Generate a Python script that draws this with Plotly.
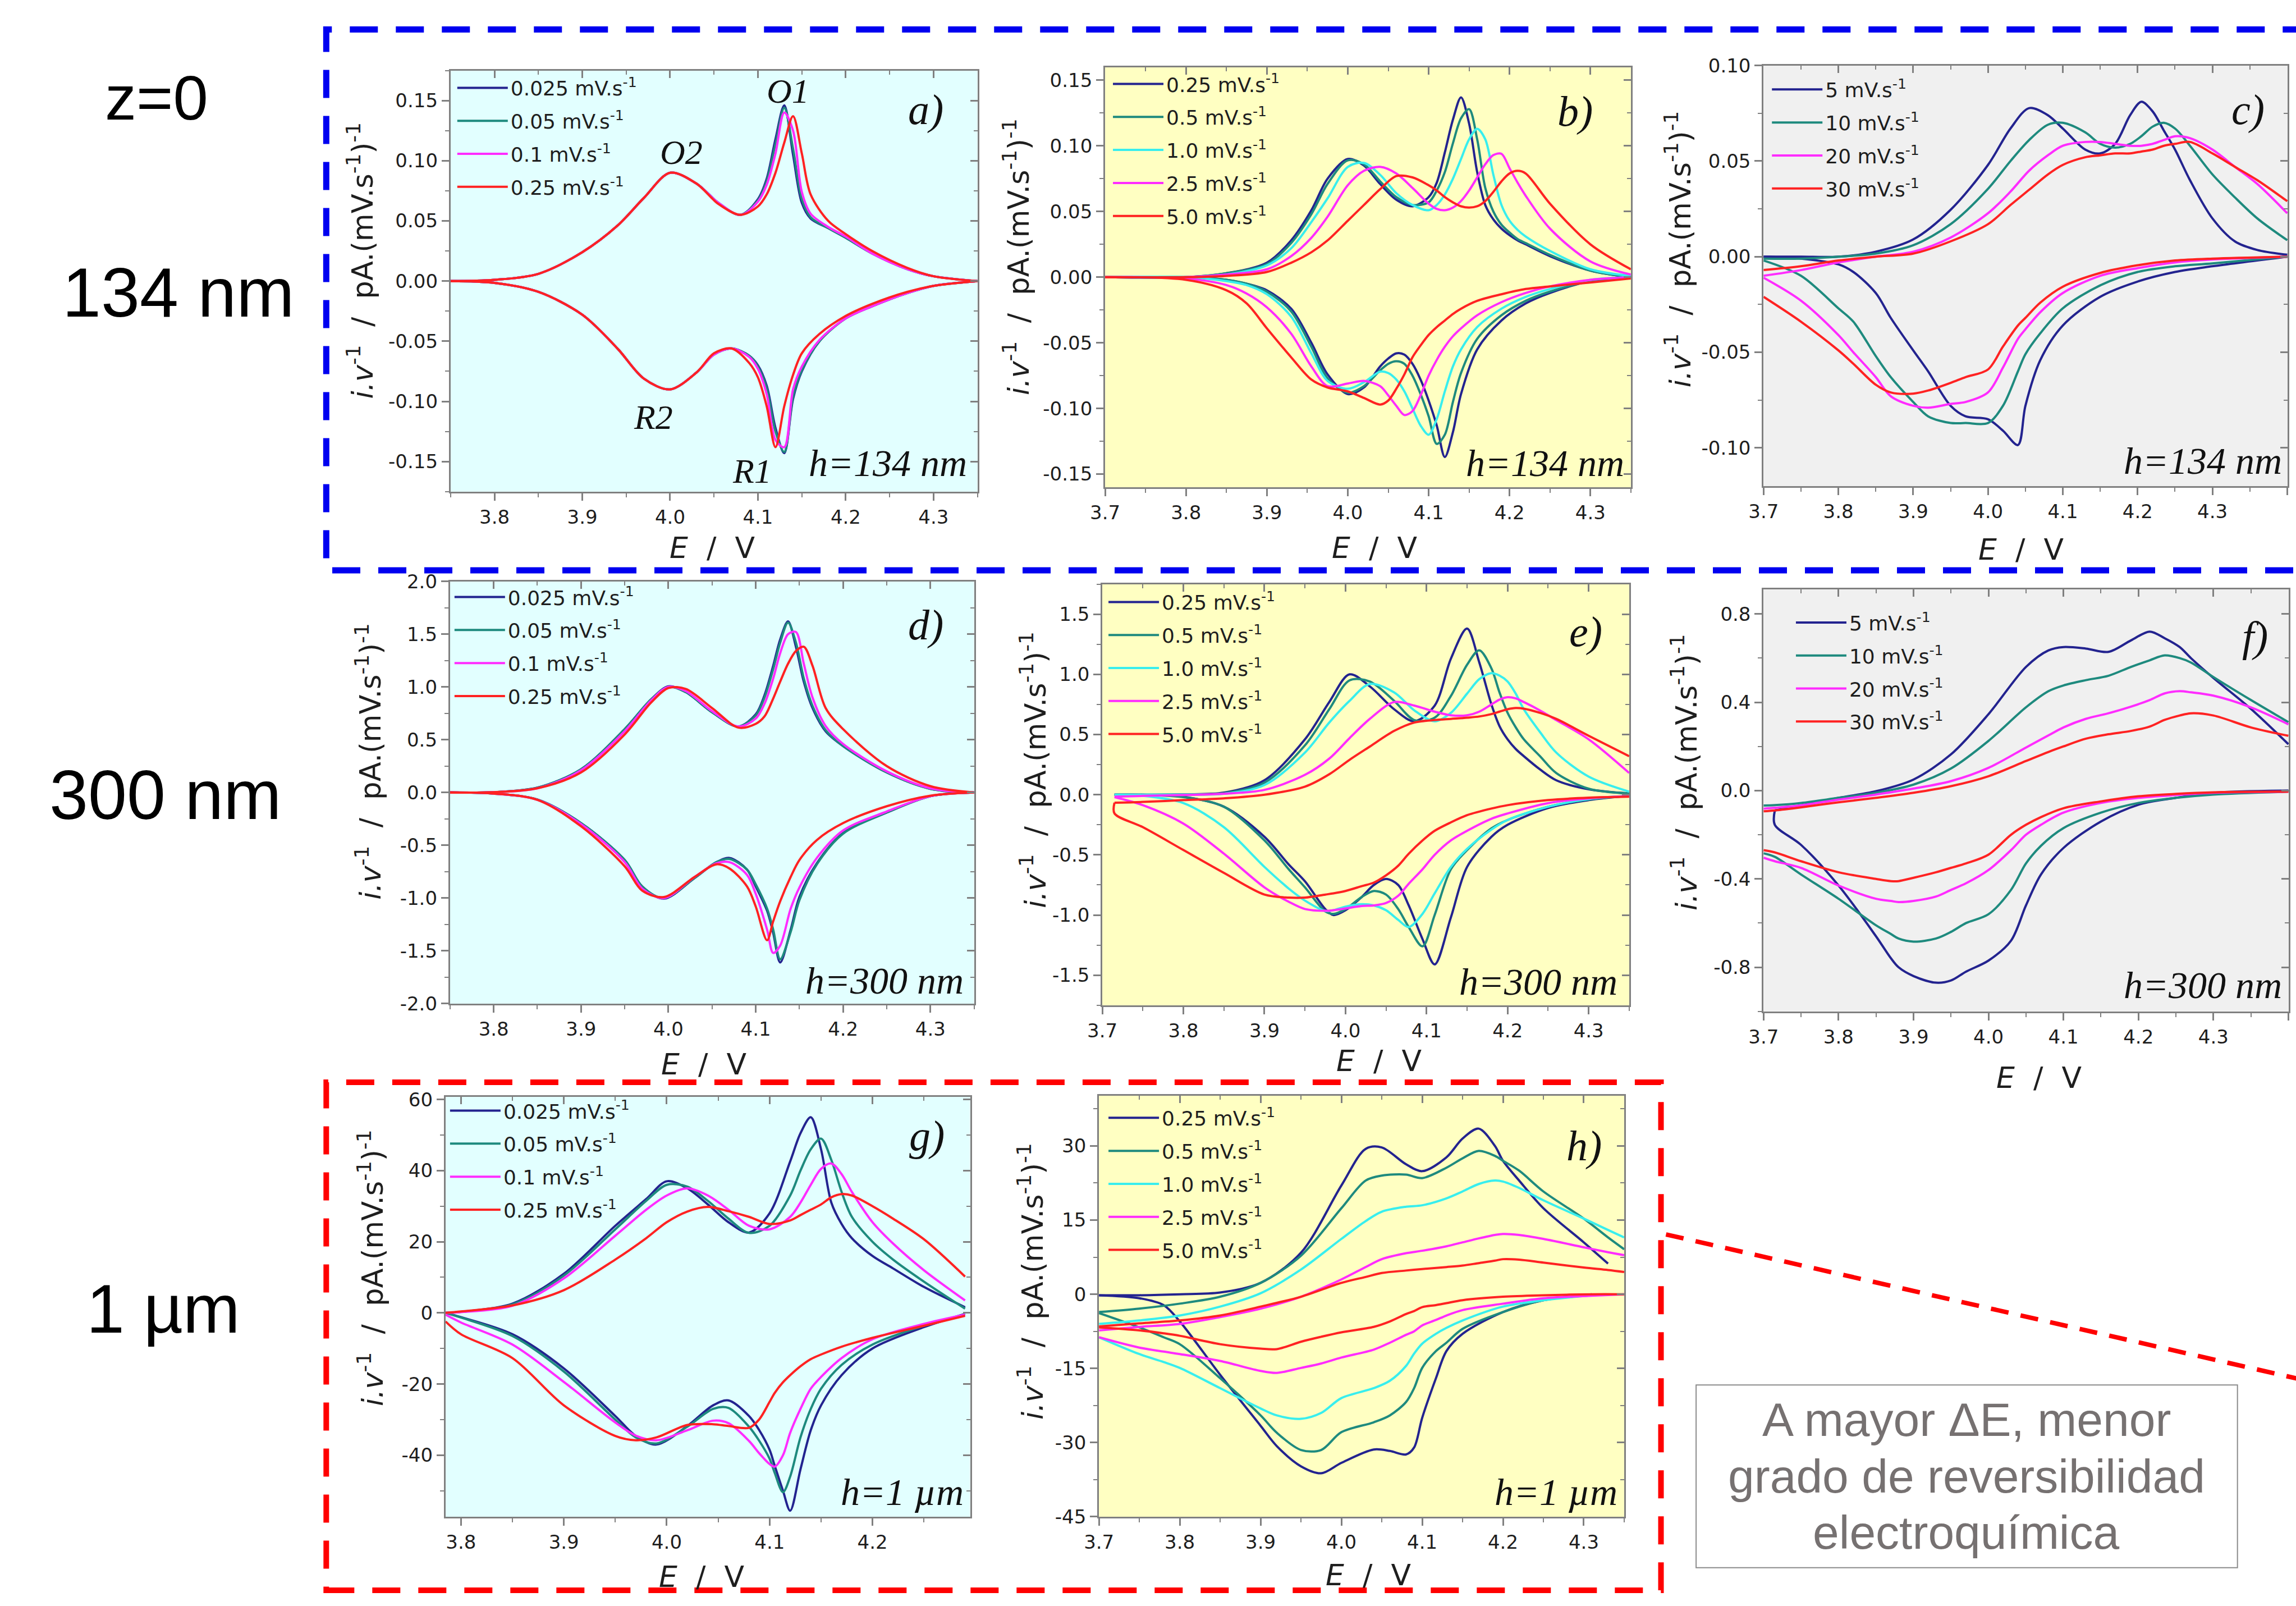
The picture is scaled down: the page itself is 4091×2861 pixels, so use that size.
import plotly.graph_objects as go

W, H = 4091, 2861

# ---------------- data ----------------
RATES_SLOW = ["0.025", "0.05", "0.1", "0.25"]
RATES_MID = ["0.25", "0.5", "1.0", "2.5", "5.0"]
RATES_FAST = ["5", "10", "20", "30"]

# panel a (h=134 nm, slow)
A_E_UP = [3.75, 3.80, 3.85, 3.90, 3.94, 3.97, 4.00, 4.03, 4.055, 4.08, 4.10, 4.11, 4.12, 4.13, 4.14, 4.15, 4.16, 4.18, 4.20, 4.23, 4.27, 4.30, 4.35]
A_UP = [
    [0, 0.001, 0.006, 0.024, 0.046, 0.069, 0.090, 0.081, 0.065, 0.055, 0.068, 0.085, 0.118, 0.146, 0.105, 0.065, 0.052, 0.044, 0.036, 0.023, 0.010, 0.004, 0],
    [0, 0.001, 0.006, 0.024, 0.046, 0.069, 0.090, 0.081, 0.065, 0.055, 0.067, 0.083, 0.114, 0.144, 0.110, 0.068, 0.053, 0.044, 0.036, 0.023, 0.010, 0.004, 0],
    [0, 0.001, 0.006, 0.024, 0.046, 0.069, 0.090, 0.081, 0.065, 0.055, 0.066, 0.080, 0.106, 0.140, 0.125, 0.074, 0.056, 0.045, 0.037, 0.023, 0.010, 0.004, 0],
    [0, 0.001, 0.006, 0.024, 0.046, 0.069, 0.090, 0.081, 0.064, 0.055, 0.062, 0.072, 0.090, 0.115, 0.137, 0.106, 0.072, 0.050, 0.039, 0.025, 0.011, 0.004, 0],
]
A_E_DN = [3.75, 3.80, 3.85, 3.90, 3.94, 3.97, 4.00, 4.03, 4.05, 4.07, 4.09, 4.10, 4.11, 4.12, 4.13, 4.14, 4.15, 4.17, 4.20, 4.23, 4.27, 4.30, 4.35]
A_DN = [
    [0, -0.0015, -0.009, -0.028, -0.056, -0.081, -0.090, -0.076, -0.061, -0.056, -0.062, -0.070, -0.087, -0.122, -0.143, -0.098, -0.075, -0.050, -0.031, -0.021, -0.010, -0.004, 0],
    [0, -0.0015, -0.009, -0.028, -0.056, -0.081, -0.090, -0.076, -0.061, -0.056, -0.062, -0.071, -0.089, -0.125, -0.142, -0.096, -0.074, -0.050, -0.031, -0.021, -0.010, -0.004, 0],
    [0, -0.0015, -0.009, -0.028, -0.056, -0.081, -0.090, -0.076, -0.061, -0.056, -0.063, -0.073, -0.094, -0.132, -0.138, -0.090, -0.071, -0.049, -0.031, -0.021, -0.010, -0.004, 0],
    [0, -0.0015, -0.009, -0.028, -0.056, -0.081, -0.090, -0.076, -0.060, -0.056, -0.068, -0.080, -0.104, -0.138, -0.104, -0.078, -0.060, -0.044, -0.029, -0.019, -0.009, -0.004, 0],
]

# panel b (h=134 nm, mid)
B_E_UP = [3.70, 3.80, 3.85, 3.90, 3.93, 3.955, 3.975, 4.00, 4.02, 4.04, 4.06, 4.08, 4.10, 4.11, 4.12, 4.13, 4.14, 4.15, 4.16, 4.17, 4.18, 4.19, 4.20, 4.21, 4.22, 4.25, 4.30, 4.35]
B_UP = [
    [0, 0, 0.003, 0.011, 0.028, 0.051, 0.075, 0.090, 0.085, 0.071, 0.059, 0.054, 0.061, 0.072, 0.095, 0.120, 0.137, 0.117, 0.080, 0.055, 0.044, 0.037, 0.032, 0.028, 0.025, 0.016, 0.005, 0],
    [0, 0, 0.003, 0.010, 0.026, 0.048, 0.071, 0.089, 0.086, 0.073, 0.061, 0.055, 0.057, 0.066, 0.080, 0.102, 0.121, 0.128, 0.105, 0.068, 0.050, 0.040, 0.034, 0.029, 0.026, 0.017, 0.005, 0],
    [0, 0, 0.002, 0.009, 0.022, 0.042, 0.060, 0.084, 0.087, 0.078, 0.064, 0.055, 0.051, 0.055, 0.063, 0.075, 0.090, 0.105, 0.113, 0.105, 0.078, 0.055, 0.043, 0.036, 0.031, 0.020, 0.006, 0.001],
    [0, 0, 0.002, 0.006, 0.016, 0.030, 0.046, 0.070, 0.081, 0.084, 0.079, 0.068, 0.056, 0.052, 0.051, 0.053, 0.058, 0.066, 0.076, 0.086, 0.093, 0.094, 0.083, 0.072, 0.062, 0.037, 0.012, 0.002],
    [0, 0, 0.001, 0.004, 0.011, 0.019, 0.028, 0.043, 0.055, 0.067, 0.077, 0.076, 0.070, 0.066, 0.061, 0.057, 0.054, 0.053, 0.054, 0.058, 0.065, 0.073, 0.079, 0.081, 0.079, 0.056, 0.025, 0.006],
]
B_E_DN = [3.70, 3.80, 3.85, 3.875, 3.90, 3.93, 3.955, 3.975, 4.00, 4.02, 4.04, 4.05, 4.06, 4.07, 4.08, 4.09, 4.10, 4.11, 4.12, 4.13, 4.14, 4.16, 4.19, 4.22, 4.25, 4.30, 4.35]
B_DN = [
    [0, 0, -0.002, -0.005, -0.010, -0.024, -0.050, -0.074, -0.089, -0.084, -0.068, -0.062, -0.058, -0.059, -0.066, -0.078, -0.094, -0.113, -0.137, -0.118, -0.089, -0.055, -0.033, -0.020, -0.012, -0.003, 0],
    [0, 0, -0.002, -0.005, -0.011, -0.026, -0.053, -0.077, -0.088, -0.083, -0.071, -0.066, -0.064, -0.066, -0.075, -0.089, -0.106, -0.127, -0.120, -0.095, -0.073, -0.047, -0.029, -0.018, -0.011, -0.003, 0],
    [0, 0, -0.003, -0.006, -0.013, -0.030, -0.058, -0.079, -0.085, -0.080, -0.072, -0.073, -0.078, -0.087, -0.100, -0.113, -0.120, -0.108, -0.087, -0.068, -0.055, -0.038, -0.024, -0.015, -0.009, -0.002, 0],
    [0, -0.001, -0.006, -0.0125, -0.023, -0.043, -0.068, -0.083, -0.081, -0.079, -0.083, -0.090, -0.098, -0.105, -0.102, -0.090, -0.075, -0.063, -0.053, -0.045, -0.039, -0.029, -0.019, -0.012, -0.007, -0.002, 0],
    [0, -0.002, -0.010, -0.020, -0.039, -0.061, -0.078, -0.084, -0.087, -0.092, -0.097, -0.094, -0.085, -0.074, -0.061, -0.052, -0.044, -0.038, -0.033, -0.028, -0.024, -0.018, -0.013, -0.009, -0.007, -0.004, -0.001],
]

# panel c (h=134 nm, fast)
C_E_UP = [3.70, 3.75, 3.80, 3.85, 3.90, 3.95, 4.00, 4.03, 4.055, 4.08, 4.10, 4.13, 4.15, 4.17, 4.19, 4.205, 4.22, 4.235, 4.25, 4.27, 4.30, 4.33, 4.36, 4.40]
C_UP = [
    [0, 0, 0, 0.0026, 0.009, 0.0245, 0.048, 0.067, 0.0777, 0.074, 0.067, 0.056, 0.054, 0.059, 0.074, 0.081, 0.076, 0.066, 0.056, 0.040, 0.020, 0.008, 0.0035, 0.001],
    [-0.001, -0.001, 0, 0.0016, 0.006, 0.017, 0.0355, 0.050, 0.061, 0.069, 0.070, 0.065, 0.059, 0.057, 0.059, 0.063, 0.068, 0.070, 0.067, 0.058, 0.043, 0.031, 0.020, 0.0086],
    [-0.010, -0.007, -0.003, 0, 0.0026, 0.010, 0.0227, 0.034, 0.045, 0.053, 0.058, 0.060, 0.060, 0.059, 0.058, 0.058, 0.059, 0.061, 0.063, 0.062, 0.056, 0.047, 0.038, 0.0227],
    [-0.007, -0.005, -0.002, 0, 0.0016, 0.008, 0.017, 0.027, 0.035, 0.043, 0.048, 0.052, 0.053, 0.054, 0.054, 0.055, 0.056, 0.058, 0.059, 0.060, 0.054, 0.047, 0.040, 0.029],
]
C_E_DN = [3.70, 3.75, 3.80, 3.82, 3.85, 3.87, 3.90, 3.92, 3.95, 3.97, 4.00, 4.02, 4.04, 4.05, 4.07, 4.10, 4.15, 4.20, 4.25, 4.30, 4.40]
C_DN = [
    [0, -0.001, -0.004, -0.008, -0.019, -0.032, -0.049, -0.060, -0.078, -0.0835, -0.085, -0.091, -0.0985, -0.078, -0.054, -0.036, -0.021, -0.013, -0.008, -0.005, 0],
    [-0.002, -0.010, -0.027, -0.034, -0.052, -0.063, -0.076, -0.0835, -0.087, -0.087, -0.087, -0.078, -0.060, -0.051, -0.040, -0.027, -0.015, -0.008, -0.005, -0.0035, 0],
    [-0.011, -0.023, -0.041, -0.050, -0.063, -0.073, -0.078, -0.079, -0.077, -0.076, -0.071, -0.058, -0.043, -0.038, -0.029, -0.019, -0.010, -0.006, -0.003, -0.0015, 0],
    [-0.021, -0.034, -0.049, -0.056, -0.067, -0.071, -0.0716, -0.070, -0.066, -0.063, -0.059, -0.047, -0.036, -0.032, -0.024, -0.0157, -0.0085, -0.0045, -0.002, -0.001, 0],
]

# panel d (h=300 nm, slow)
D_E_UP = [3.75, 3.80, 3.85, 3.90, 3.95, 3.98, 4.00, 4.02, 4.05, 4.08, 4.10, 4.11, 4.12, 4.128, 4.137, 4.146, 4.155, 4.165, 4.18, 4.20, 4.25, 4.30, 4.35]
D_UP = [
    [0, 0.003, 0.045, 0.22, 0.60, 0.88, 1.005, 0.95, 0.76, 0.625, 0.74, 0.92, 1.20, 1.45, 1.62, 1.38, 1.05, 0.80, 0.58, 0.44, 0.19, 0.035, 0],
    [0, 0.003, 0.045, 0.22, 0.60, 0.88, 1.00, 0.95, 0.76, 0.625, 0.73, 0.90, 1.17, 1.42, 1.61, 1.42, 1.08, 0.82, 0.59, 0.44, 0.19, 0.035, 0],
    [0, 0.003, 0.04, 0.21, 0.58, 0.87, 1.00, 0.96, 0.77, 0.625, 0.70, 0.84, 1.08, 1.32, 1.50, 1.52, 1.22, 0.90, 0.63, 0.46, 0.20, 0.04, 0],
    [0, 0.003, 0.04, 0.19, 0.55, 0.85, 0.99, 0.98, 0.80, 0.615, 0.65, 0.72, 0.89, 1.05, 1.22, 1.34, 1.38, 1.20, 0.80, 0.60, 0.25, 0.06, 0],
]
D_E_DN = [3.75, 3.80, 3.85, 3.90, 3.95, 3.97, 3.995, 4.03, 4.055, 4.07, 4.09, 4.10, 4.113, 4.12, 4.128, 4.14, 4.15, 4.17, 4.20, 4.25, 4.30, 4.35]
D_DN = [
    [0, -0.01, -0.067, -0.29, -0.64, -0.89, -1.005, -0.81, -0.66, -0.62, -0.73, -0.89, -1.12, -1.33, -1.61, -1.30, -0.99, -0.67, -0.385, -0.19, -0.035, 0],
    [0, -0.01, -0.067, -0.29, -0.64, -0.89, -1.00, -0.81, -0.66, -0.63, -0.73, -0.87, -1.10, -1.30, -1.58, -1.32, -1.02, -0.68, -0.39, -0.19, -0.035, 0],
    [0, -0.01, -0.07, -0.30, -0.66, -0.91, -1.00, -0.80, -0.67, -0.66, -0.78, -0.96, -1.30, -1.52, -1.45, -1.10, -0.90, -0.62, -0.36, -0.18, -0.035, 0],
    [0, -0.01, -0.07, -0.32, -0.70, -0.93, -0.99, -0.80, -0.68, -0.72, -0.89, -1.08, -1.40, -1.22, -1.03, -0.80, -0.64, -0.45, -0.29, -0.13, -0.03, 0],
]

# panel e (h=300 nm, mid)
E_E_UP = [3.715, 3.75, 3.80, 3.85, 3.90, 3.95, 3.98, 4.005, 4.03, 4.06, 4.085, 4.11, 4.13, 4.15, 4.165, 4.18, 4.19, 4.20, 4.21, 4.22, 4.24, 4.26, 4.30, 4.35]
E_UP = [
    [0, 0, 0.003, 0.017, 0.12, 0.46, 0.77, 1.00, 0.90, 0.71, 0.61, 0.74, 1.13, 1.38, 1.10, 0.75, 0.57, 0.46, 0.38, 0.32, 0.21, 0.12, 0.045, 0.01],
    [0, 0, 0.002, 0.013, 0.10, 0.41, 0.71, 0.95, 0.94, 0.78, 0.62, 0.64, 0.82, 1.08, 1.20, 1.05, 0.85, 0.68, 0.56, 0.46, 0.32, 0.18, 0.05, 0.01],
    [0, 0, 0.001, 0.008, 0.08, 0.35, 0.60, 0.78, 0.92, 0.85, 0.70, 0.61, 0.68, 0.84, 0.96, 1.01, 0.99, 0.94, 0.84, 0.71, 0.52, 0.35, 0.15, 0.025],
    [-0.017, -0.01, -0.003, 0.008, 0.04, 0.165, 0.30, 0.47, 0.63, 0.77, 0.74, 0.69, 0.66, 0.66, 0.69, 0.75, 0.79, 0.81, 0.80, 0.77, 0.70, 0.62, 0.46, 0.18],
    [-0.067, -0.060, -0.045, -0.03, 0.0, 0.067, 0.17, 0.29, 0.40, 0.53, 0.60, 0.62, 0.63, 0.64, 0.65, 0.67, 0.69, 0.71, 0.72, 0.715, 0.68, 0.63, 0.49, 0.32],
]
E_E_DN = [3.715, 3.75, 3.80, 3.85, 3.90, 3.93, 3.95, 3.975, 3.985, 4.00, 4.02, 4.035, 4.05, 4.065, 4.078, 4.095, 4.11, 4.13, 4.15, 4.18, 4.20, 4.25, 4.30, 4.35]
E_DN = [
    [0, 0, -0.017, -0.10, -0.35, -0.58, -0.72, -0.95, -1.00, -0.96, -0.85, -0.75, -0.70, -0.75, -0.92, -1.20, -1.41, -1.02, -0.60, -0.35, -0.25, -0.11, -0.045, -0.01],
    [0, -0.003, -0.02, -0.10, -0.38, -0.62, -0.77, -0.97, -0.99, -0.95, -0.85, -0.80, -0.83, -0.95, -1.10, -1.26, -1.00, -0.62, -0.46, -0.28, -0.21, -0.10, -0.04, -0.01],
    [-0.005, -0.01, -0.07, -0.27, -0.60, -0.78, -0.88, -0.966, -0.96, -0.93, -0.91, -0.92, -0.96, -1.04, -1.10, -0.99, -0.82, -0.60, -0.45, -0.29, -0.21, -0.10, -0.036, -0.01],
    [-0.02, -0.087, -0.24, -0.49, -0.77, -0.89, -0.95, -0.965, -0.96, -0.945, -0.925, -0.92, -0.90, -0.84, -0.74, -0.62, -0.50, -0.38, -0.30, -0.20, -0.156, -0.07, -0.03, -0.012],
    [-0.156, -0.27, -0.46, -0.65, -0.83, -0.855, -0.855, -0.83, -0.82, -0.80, -0.76, -0.73, -0.67, -0.59, -0.49, -0.38, -0.30, -0.23, -0.17, -0.115, -0.087, -0.045, -0.025, -0.017],
]

# panel f (h=300 nm, fast)
F_E_UP = [3.70, 3.715, 3.75, 3.80, 3.85, 3.90, 3.95, 4.00, 4.05, 4.08, 4.10, 4.13, 4.16, 4.19, 4.215, 4.235, 4.255, 4.27, 4.30, 4.35, 4.40]
F_UP = [
    [None, -0.09, -0.067, -0.033, -0.003, 0.05, 0.164, 0.346, 0.56, 0.635, 0.65, 0.643, 0.628, 0.68, 0.72, 0.69, 0.65, 0.60, 0.51, 0.37, 0.21],
    [-0.068, -0.066, -0.056, -0.033, -0.01, 0.027, 0.10, 0.225, 0.377, 0.45, 0.476, 0.50, 0.52, 0.56, 0.59, 0.612, 0.60, 0.58, 0.514, 0.41, 0.31],
    [-0.082, -0.078, -0.067, -0.041, -0.018, 0.009, 0.043, 0.103, 0.195, 0.25, 0.286, 0.325, 0.35, 0.38, 0.41, 0.44, 0.45, 0.445, 0.43, 0.377, 0.30],
    [-0.094, -0.09, -0.076, -0.053, -0.033, -0.01, 0.02, 0.065, 0.134, 0.175, 0.20, 0.235, 0.255, 0.27, 0.29, 0.32, 0.34, 0.35, 0.34, 0.286, 0.248],
]
F_E_DN = [3.70, 3.715, 3.75, 3.80, 3.85, 3.87, 3.88, 3.90, 3.93, 3.95, 3.97, 4.00, 4.03, 4.05, 4.07, 4.10, 4.15, 4.20, 4.25, 4.30, 4.40]
F_DN = [
    [None, -0.155, -0.246, -0.43, -0.66, -0.76, -0.80, -0.84, -0.87, -0.86, -0.82, -0.77, -0.68, -0.52, -0.38, -0.26, -0.14, -0.064, -0.033, -0.01, 0],
    [-0.284, -0.30, -0.38, -0.49, -0.61, -0.65, -0.67, -0.684, -0.67, -0.64, -0.60, -0.56, -0.45, -0.33, -0.25, -0.17, -0.10, -0.056, -0.033, -0.018, -0.005],
    [-0.304, -0.32, -0.35, -0.43, -0.49, -0.50, -0.505, -0.50, -0.48, -0.45, -0.42, -0.36, -0.27, -0.20, -0.155, -0.10, -0.056, -0.033, -0.02, -0.01, -0.005],
    [-0.27, -0.28, -0.32, -0.37, -0.40, -0.41, -0.41, -0.395, -0.37, -0.35, -0.33, -0.29, -0.20, -0.155, -0.12, -0.08, -0.049, -0.026, -0.015, -0.008, -0.005],
]

# panel g (h=1 um, slow)
G_E_UP = [3.785, 3.80, 3.85, 3.90, 3.95, 3.98, 4.00, 4.02, 4.04, 4.06, 4.08, 4.10, 4.12, 4.13, 4.14, 4.15, 4.16, 4.17, 4.18, 4.20, 4.22, 4.25, 4.29]
G_UP = [
    [0, 0.3, 2.6, 11, 24.5, 32, 37, 35, 30.5, 25.5, 22.6, 28, 42.6, 50.5, 55, 46, 31, 25, 21, 16, 12.5, 7.3, 1.6],
    [0, 0.3, 2.4, 10.5, 23.5, 31.5, 36, 35.5, 31.5, 26.5, 22.5, 24.5, 33, 40, 46, 49, 43, 34, 27, 20, 15, 8.8, 1.2],
    [0, 0.2, 2.0, 9.7, 21.7, 29, 33, 35, 33, 29, 24.5, 23.5, 27, 31, 36, 40.5, 42, 39, 34, 25.5, 19.5, 12, 3.5],
    [0, 0.4, 2.1, 6.4, 15, 21, 25.5, 28.5, 29.8, 28.6, 27, 25, 26, 27.5, 29, 30.5, 32.5, 33.4, 33, 30, 26.5, 20.7, 10.2],
]
G_E_DN = [3.785, 3.80, 3.85, 3.90, 3.95, 3.97, 3.99, 4.02, 4.045, 4.06, 4.08, 4.09, 4.10, 4.105, 4.113, 4.12, 4.13, 4.14, 4.15, 4.17, 4.20, 4.25, 4.29]
G_DN = [
    [0, -1.2, -6, -15.6, -29, -34.6, -37, -31.8, -26, -24.6, -29, -33, -38.5, -43, -50, -55.6, -44, -33, -26, -17.5, -10, -4, -0.3],
    [0, -1.3, -6.5, -16.5, -30, -35, -36.7, -32, -27, -26.7, -32, -36, -41, -45, -50.4, -46, -35, -27, -21.3, -14.6, -8.9, -3.6, -0.5],
    [-0.5, -2.7, -8.9, -19.4, -30.8, -34.5, -35.8, -33, -30.3, -31, -36, -39.5, -42.5, -43.2, -40, -33.7, -27, -21.3, -18, -12.7, -7.4, -3.1, -0.5],
    [-2.4, -6, -12.7, -26, -34.6, -35.8, -35, -31.5, -31.3, -31.8, -32.3, -29.9, -25, -22.5, -19.5, -17.5, -15, -13, -11.7, -9.5, -7, -3.6, -0.8],
]

# panel h (h=1 um, mid)
H_E_UP = [3.70, 3.75, 3.80, 3.85, 3.90, 3.95, 4.00, 4.03, 4.05, 4.08, 4.10, 4.13, 4.15, 4.17, 4.19, 4.20, 4.22, 4.25, 4.30, 4.33, 4.35]
H_UP = [
    [-0.2, -0.2, 0, 0.35, 2.3, 8.4, 22, 29.4, 29.7, 26.3, 24.9, 27.7, 31.5, 33.5, 30, 27, 23, 17.4, 10.5, 6.2, None],
    [-3.6, -2.9, -1.9, -0.5, 2.3, 7.8, 17.4, 23, 24, 24.2, 23.5, 25.6, 27.5, 29, 28, 27, 25, 20.8, 15.3, 11.5, 9.1],
    [-6, -5.3, -4.3, -2.5, 0.2, 5, 11.2, 14.8, 16.7, 17.7, 18, 19.4, 20.8, 22.3, 23, 22.8, 21.5, 19, 15.3, 13, 11.5],
    [-7.3, -6.6, -6, -4.6, -2.9, -0.5, 3, 5.5, 7.1, 8.3, 8.8, 9.7, 10.5, 11.3, 12, 12.2, 12, 11.2, 9.5, 8.5, 7.9],
    [-6.5, -5.9, -5.3, -4.3, -2.5, -0.5, 2.3, 3.5, 4.3, 4.8, 5.1, 5.5, 5.8, 6.3, 6.8, 7.1, 7.0, 6.4, 5.4, 4.9, 4.5],
]
H_E_DN = [3.70, 3.75, 3.78, 3.80, 3.85, 3.90, 3.92, 3.95, 3.975, 4.00, 4.04, 4.06, 4.08, 4.09, 4.10, 4.117, 4.13, 4.15, 4.20, 4.25, 4.31, 4.35]
H_DN = [
    [-0.2, -0.8, -2.2, -5.5, -16.3, -26.6, -30.7, -34.8, -36.2, -34.1, -31.4, -31.7, -32.4, -31, -25, -17, -11.5, -8, -3.6, -1.2, 0, None],
    [-3.8, -6.7, -8.7, -10.1, -17, -24.5, -28, -31.5, -31.5, -27.9, -25.9, -24.5, -21.8, -19, -14.9, -11.5, -9.8, -7, -3.6, -1.2, -0.2, None],
    [-8.7, -12.1, -13.7, -14.9, -19, -23.1, -24.5, -25.2, -24, -21, -19, -17.5, -14.5, -12, -10, -8, -6.8, -5.3, -2.5, -1.2, -0.2, None],
    [-8.7, -10.8, -11.6, -12.1, -13.5, -15.5, -15.9, -14.9, -14, -12.8, -11.2, -9.8, -8.2, -7.5, -6.3, -5.2, -4.3, -3.2, -1.9, -0.8, -0.3, 0],
    [-6.7, -7.3, -7.9, -8.4, -10.1, -11, -11.1, -9.6, -8.6, -7.7, -6.6, -5.5, -4, -3.4, -2.6, -2.2, -1.8, -1.2, -0.5, -0.2, 0, 0],
]

# tick values
X_TICKS_38 = [3.8, 3.9, 4.0, 4.1, 4.2, 4.3]
X_TICKS_37 = [3.7, 3.8, 3.9, 4.0, 4.1, 4.2, 4.3]
X_TICKS_37_44 = [3.7, 3.8, 3.9, 4.0, 4.1, 4.2, 4.3, 4.4]
X_TICKS_G = [3.8, 3.9, 4.0, 4.1, 4.2]
Y_TICKS_AB = [-0.15, -0.10, -0.05, 0.00, 0.05, 0.10, 0.15]
Y_TICKS_C = [-0.10, -0.05, 0.00, 0.05, 0.10]
Y_TICKS_D = [-2.0, -1.5, -1.0, -0.5, 0.0, 0.5, 1.0, 1.5, 2.0]
Y_TICKS_E = [-1.5, -1.0, -0.5, 0.0, 0.5, 1.0, 1.5]
Y_TICKS_F = [-0.8, -0.4, 0.0, 0.4, 0.8]
Y_TICKS_G = [-40, -20, 0, 20, 40, 60]
Y_TICKS_H = [-45, -30, -15, 0, 15, 30]

# ---------------- style ----------------
NAVY, TEAL, CYAN, MAG, RED = "#23238f", "#1e8a7e", "#38eeee", "#ff2cff", "#ff2222"
COLS4 = [NAVY, TEAL, MAG, RED]
COLS5 = [NAVY, TEAL, CYAN, MAG, RED]
BG_CYAN, BG_YEL, BG_GRAY = "#e2ffff", "#ffffc2", "#f0f0f0"
AX = "#808080"
TXT = "#1e1e1e"
SANS = "DejaVu Sans"
SERIF = "Liberation Serif"


def fx(p):
    return p / W


def fy(p):
    return 1 - p / H


PANELS = [
    dict(tag="a", box=(781, 107, 1726, 868), xr=[3.75, 4.35], yr=[-0.175, 0.175], xt=X_TICKS_38, yt=Y_TICKS_AB, yf="{:.2f}",
         xm=0.05, ym=0.025, bg=BG_CYAN, names=RATES_SLOW, cols=COLS4, eu=A_E_UP, up=A_UP, ed=A_E_DN, dn=A_DN,
         leg=(796, 144), lab=(1633, 178), h=("h=134 nm", 1709, 816), xtp=(1250, 970), ytp=(619, 450)),
    dict(tag="b", box=(1955, 101, 2898, 860), xr=[3.7, 4.35], yr=[-0.16, 0.16], xt=X_TICKS_37, yt=Y_TICKS_AB, yf="{:.2f}",
         xm=0.05, ym=0.025, bg=BG_YEL, names=RATES_MID, cols=COLS5, eu=B_E_UP, up=B_UP, ed=B_E_DN, dn=B_DN,
         leg=(1972, 137), lab=(2798, 181), h=("h=134 nm", 2888, 816), xtp=(2438, 970), ytp=(1796, 444)),
    dict(tag="c", box=(3136, 98, 4076, 858), xr=[3.7, 4.4005], yr=[-0.12, 0.10], xt=X_TICKS_37_44, yt=Y_TICKS_C, yf="{:.2f}",
         xm=0.05, ym=0.025, bg=BG_GRAY, names=RATES_FAST, cols=COLS4, eu=C_E_UP, up=C_UP, ed=C_E_DN, dn=C_DN,
         leg=(3154, 147), lab=(4005, 178), h=("h=134 nm", 4068, 812), xtp=(3598, 973), ytp=(2983, 430)),
    dict(tag="d", box=(780, 1030, 1720, 1793), xr=[3.75, 4.35], yr=[-2.0, 2.0], xt=X_TICKS_38, yt=Y_TICKS_D, yf="{:.1f}",
         xm=0.05, ym=0.25, bg=BG_CYAN, names=RATES_SLOW, cols=COLS4, eu=D_E_UP, up=D_UP, ed=D_E_DN, dn=D_DN,
         leg=(791, 1064), lab=(1633, 1109), h=("h=300 nm", 1703, 1751), xtp=(1235, 1903), ytp=(634, 1355)),
    dict(tag="e", box=(1950, 1035, 2895, 1796), xr=[3.7, 4.35], yr=[-1.75, 1.75], xt=X_TICKS_37, yt=Y_TICKS_E, yf="{:.1f}",
         xm=0.05, ym=0.25, bg=BG_YEL, names=RATES_MID, cols=COLS5, eu=E_E_UP, up=E_UP, ed=E_E_DN, dn=E_DN,
         leg=(1964, 1073), lab=(2817, 1121), h=("h=300 nm", 2876, 1754), xtp=(2446, 1897), ytp=(1826, 1370), close=[4]),
    dict(tag="f", box=(3136, 1045, 4078, 1807), xr=[3.7, 4.4005], yr=[-1.0, 0.91], xt=X_TICKS_37_44, yt=Y_TICKS_F, yf="{:.1f}",
         xm=0.05, ym=0.2, bg=BG_GRAY, names=RATES_FAST, cols=COLS4, eu=F_E_UP, up=F_UP, ed=F_E_DN, dn=F_DN,
         leg=(3197, 1110), lab=(4018, 1130), h=("h=300 nm", 4068, 1760), xtp=(3630, 1927), ytp=(2994, 1375), close=[0]),
    dict(tag="g", box=(772, 1961, 1713, 2720), xr=[3.785, 4.295], yr=[-57.3, 60.8], xt=X_TICKS_G, yt=Y_TICKS_G, yf="{:.0f}",
         xm=0.05, ym=10, bg=BG_CYAN, names=RATES_SLOW, cols=COLS4, eu=G_E_UP, up=G_UP, ed=G_E_DN, dn=G_DN,
         leg=(783, 1992), lab=(1635, 2032), h=("h=1 µm", 1703, 2675), xtp=(1231, 2829), ytp=(638, 2270)),
    dict(tag="h", box=(1944, 1959, 2886, 2720), xr=[3.7, 4.35], yr=[-45, 40.2], xt=X_TICKS_37, yt=Y_TICKS_H, yf="{:.0f}",
         xm=0.05, ym=7.5, bg=BG_YEL, names=RATES_MID, cols=COLS5, eu=H_E_UP, up=H_UP, ed=H_E_DN, dn=H_DN,
         leg=(1964, 2005), lab=(2814, 2050), h=("h=1 µm", 2876, 2675), xtp=(2427, 2826), ytp=(1822, 2294)),
]

fig = go.Figure()
layout = dict(width=W, height=H, margin=dict(l=0, r=0, t=0, b=0), paper_bgcolor="white",
              plot_bgcolor="rgba(0,0,0,0)", showlegend=True)
shapes, annos = [], []

TICKFONT = dict(family=SANS, size=34, color=TXT)
YTITLE = "<i>i.v</i><sup>-1</sup>\u00a0\u00a0/\u00a0\u00a0pA.(mV.s<sup>-1</sup>)<sup>-1</sup>"
XTITLE = "<i>E</i>\u00a0\u00a0/\u00a0\u00a0V"

for k, p in enumerate(PANELS, start=1):
    sx = "" if k == 1 else str(k)
    xa, ya = "x" + sx, "y" + sx
    leg = "legend" + sx
    x0, y0, x1, y1 = p["box"]
    dom_x = [fx(x0), fx(x1)]
    dom_y = [fy(y1), fy(y0)]
    # main axes (ticks out: left/bottom)
    layout["xaxis" + sx] = dict(
        domain=dom_x, range=p["xr"], anchor=ya, showline=True, linecolor=AX, linewidth=3, mirror=True,
        ticks="outside", ticklen=13, tickwidth=3, tickcolor=AX, tickmode="array", tickvals=p["xt"],
        ticktext=[f"{v:.1f}" for v in p["xt"]], tickfont=TICKFONT, showgrid=False, zeroline=False,
        minor=dict(tickmode="linear", tick0=0, dtick=p["xm"], ticks="outside", ticklen=7, tickwidth=2, tickcolor=AX),
    )
    layout["yaxis" + sx] = dict(
        domain=dom_y, range=p["yr"], anchor=xa, showline=True, linecolor=AX, linewidth=3, mirror=True,
        ticks="outside", ticklen=13, tickwidth=3, tickcolor=AX, tickmode="array", tickvals=p["yt"],
        ticktext=[p["yf"].format(v) for v in p["yt"]], tickfont=TICKFONT, showgrid=False, zeroline=False,
        minor=dict(tickmode="linear", tick0=0, dtick=p["ym"], ticks="outside", ticklen=7, tickwidth=2, tickcolor=AX),
    )
    # overlay axes (ticks in: top/right)
    ox, oy = str(k + 8), str(k + 8)
    layout["xaxis" + ox] = dict(
        overlaying=xa, side="top", anchor=ya, range=p["xr"], showline=False, ticks="inside", ticklen=13,
        tickwidth=3, tickcolor=AX, tickmode="array", tickvals=p["xt"], showticklabels=False, showgrid=False,
        zeroline=False, minor=dict(tickmode="linear", tick0=0, dtick=p["xm"], ticks="inside", ticklen=7, tickwidth=2, tickcolor=AX),
    )
    layout["yaxis" + oy] = dict(
        overlaying=ya, side="right", anchor=xa, range=p["yr"], showline=False, ticks="inside", ticklen=13,
        tickwidth=3, tickcolor=AX, tickmode="array", tickvals=p["yt"], showticklabels=False, showgrid=False,
        zeroline=False, minor=dict(tickmode="linear", tick0=0, dtick=p["ym"], ticks="inside", ticklen=7, tickwidth=2, tickcolor=AX),
    )
    fig.add_trace(go.Scatter(x=[None], y=[None], xaxis="x" + ox, yaxis="y" + oy, showlegend=False, hoverinfo="skip"))

    # background
    shapes.append(dict(type="rect", xref=xa + " domain", yref=ya + " domain", x0=0, x1=1, y0=0, y1=1,
                       fillcolor=p["bg"], line=dict(width=0), layer="below"))

    # curves: anodic branch, gap at the upper vertex, cathodic branch back
    for j, name in enumerate(p["names"]):
        up = [(e, v) for e, v in zip(p["eu"], p["up"][j]) if v is not None]
        dn = [(e, v) for e, v in zip(p["ed"], p["dn"][j]) if v is not None][::-1]
        pts = up + [(None, None)] + dn
        if j in p.get("close", []):
            pts.append(up[0])
        fig.add_trace(go.Scatter(
            x=[q[0] for q in pts], y=[q[1] for q in pts], mode="lines",
            line=dict(color=p["cols"][j], width=4, shape="spline", smoothing=0.9),
            name=f"{name} mV.s<sup>-1</sup>", legend=leg, legendgroup=f"{p['tag']}{j}",
            xaxis=xa, yaxis=ya, hoverinfo="skip"))

    lx, ly = p["leg"]
    layout[leg] = dict(x=fx(lx - 8), y=fy(ly - 36), xanchor="left", yanchor="top", bgcolor="rgba(0,0,0,0)",
                       borderwidth=0, font=dict(family=SANS, size=36, color=TXT), itemwidth=90,
                       tracegroupgap=9, traceorder="grouped")

    # panel letter
    annos.append(dict(text=f"<i>{p['tag']})</i>", x=fx(p["lab"][0]), y=fy(p["lab"][1]), xref="paper", yref="paper",
                      showarrow=False, xanchor="center", yanchor="middle",
                      font=dict(family=SERIF, size=76, color="#111111")))
    # thickness label
    ht, hx, hy = p["h"]
    annos.append(dict(text=f"<i>{ht}</i>", x=fx(hx), y=fy(hy), xref="paper", yref="paper", showarrow=False,
                      xanchor="right", yanchor="middle", font=dict(family=SERIF, size=68, color="#111111")))
    # axis titles
    annos.append(dict(text=XTITLE, x=fx(p["xtp"][0]), y=fy(p["xtp"][1]), xref="paper", yref="paper",
                      showarrow=False, xanchor="center", yanchor="middle", font=dict(family=SANS, size=52, color=TXT)))
    annos.append(dict(text=YTITLE, x=fx(p["ytp"][0]), y=fy(p["ytp"][1]), xref="paper", yref="paper",
                      showarrow=False, xanchor="center", yanchor="middle", textangle=-90,
                      font=dict(family=SANS, size=51, color=TXT)))

# peak labels in panel a
for txt, ex, iy in [("O1", 4.1345, 0.158), ("O2", 4.013, 0.107), ("R2", 3.981, -0.113), ("R1", 4.093, -0.158)]:
    annos.append(dict(text=f"<i>{txt}</i>", x=ex, y=iy, xref="x", yref="y", showarrow=False,
                      font=dict(family=SERIF, size=62, color="#111111")))

# row labels
for txt, cx, cy, sz in [("z=0", 254, 157, 112), ("134 nm", 293, 508, 124), ("300 nm", 270, 1416, 124), ("1 µm", 266, 2345, 122)]:
    annos.append(dict(text=txt, x=fx(cx), y=fy(cy), xref="paper", yref="paper", showarrow=False,
                      xanchor="center", yanchor="middle", font=dict(family="Liberation Sans", size=sz, color="#000000")))

# dashed frames
DASH = "50px,32px"
shapes.append(dict(type="path", xref="paper", yref="paper",
                   path=f"M {fx(4200)},{fy(33)} L {fx(558)},{fy(33)} L {fx(558)},{fy(1010)} L {fx(4200)},{fy(1010)}",
                   line=dict(color="#0000f0", width=11, dash=DASH)))
shapes.append(dict(type="rect", xref="paper", yref="paper", x0=fx(558), x1=fx(2952), y0=fy(2853), y1=fy(1935),
                   line=dict(color="#ff0000", width=10, dash=DASH)))
shapes.append(dict(type="line", xref="paper", yref="paper", x0=fx(2961), y0=fy(2210), x1=fx(4100), y1=fy(2472),
                   line=dict(color="#ff0000", width=8, dash="32px,22px")))

# note box
shapes.append(dict(type="rect", xref="paper", yref="paper", x0=fx(3015), x1=fx(3986), y0=fy(2812), y1=fy(2482),
                   line=dict(color="#8c8c8c", width=2), fillcolor="white"))
for txt, cy in [("A mayor ΔE, menor", 2545), ("grado de reversibilidad", 2647), ("electroquímica", 2748)]:
    annos.append(dict(text=txt, x=fx(3500), y=fy(cy), xref="paper", yref="paper", showarrow=False,
                      xanchor="center", yanchor="middle", font=dict(family="Liberation Sans", size=84, color="#767171")))

layout["shapes"] = shapes
layout["annotations"] = annos
fig.update_layout(**layout)
fig.write_html("out.html", post_script="document.body.style.margin='0px';")
